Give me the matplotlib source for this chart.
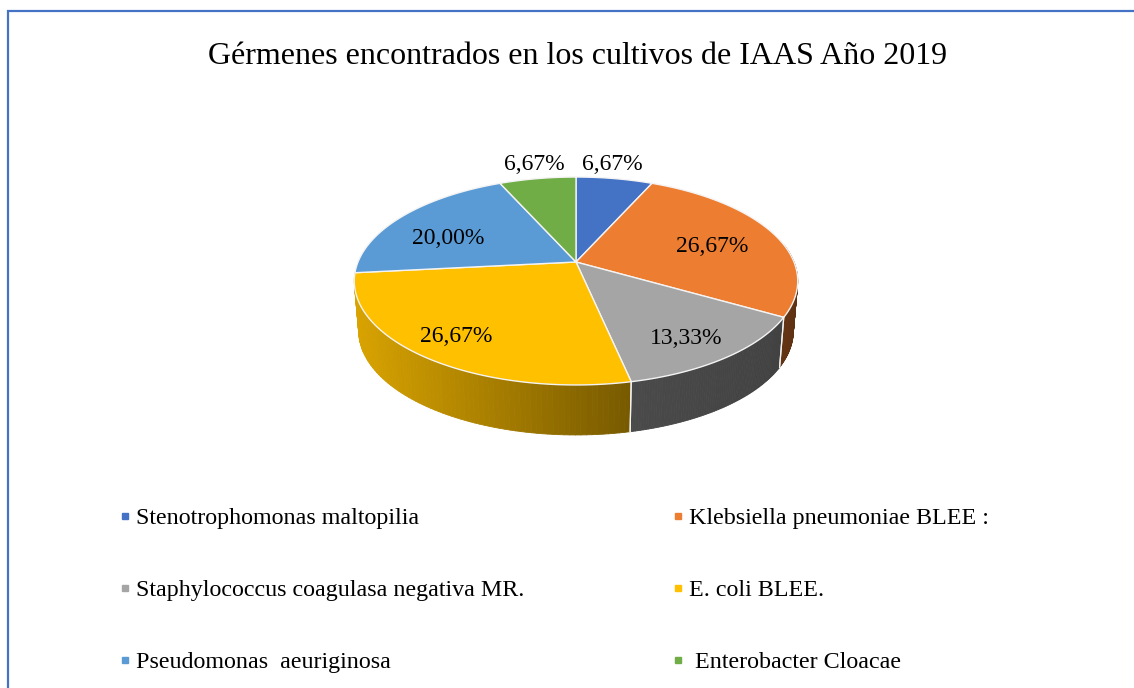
import matplotlib
matplotlib.use("Agg")
import matplotlib.pyplot as plt
import numpy as np
from matplotlib.collections import PolyCollection
from matplotlib.lines import Line2D
from matplotlib.patches import Polygon

plt.rcParams['font.family'] = ['Liberation Serif', 'DejaVu Serif']

title = "Gérmenes encontrados en los cultivos de IAAS Año 2019"
names = ["Stenotrophomonas maltopilia", "Klebsiella pneumoniae BLEE :",
         "Staphylococcus coagulasa negativa MR.", "E. coli BLEE.",
         "Pseudomonas  aeuriginosa", " Enterobacter Cloacae"]
values = [6.67, 26.67, 13.33, 26.67, 20.00, 6.67]
colors = ['#4472C4', '#ED7D31', '#A5A5A5', '#FFC000', '#5B9BD5', '#70AD47']
# darkening of the side wall, left end and right end of each slice
shade_left = [0.4, 0.42, 0.45, 0.85, 0.5, 0.5]
shade_right = [0.4, 0.40, 0.40, 0.47, 0.5, 0.5]
label_pos = [(612, 161), (712, 244), (686, 336), (456, 334), (448, 236), (534, 161)]

# pie geometry in pixels
cx, cy = 576, 262
rx, ry, persp = 218, 100.5, 0.1827
depth = 50
shrink = 0.98


def top_xy(th):
    den = 1 + persp * np.cos(th)
    return cx + rx * np.sin(th) / den, cy - ry * np.cos(th) / den


def low_xy(th):
    x, y = top_xy(th)
    return cx + (x - cx) * shrink, y + depth


fig = plt.figure(figsize=(11.34, 6.88), dpi=100)
ax = fig.add_axes([0, 0, 1, 1])
ax.set_xlim(0, 1134)
ax.set_ylim(688, 0)
ax.axis('off')

# chart frame, runs off the right and bottom of the picture
ax.add_patch(plt.Rectangle((8, 11), 1140, 700, fc='white', ec='#4472C4', lw=1.6))

ax.text(578, 57, title, ha='center', va='center', fontsize=23)

edges = np.radians(np.cumsum([0] + values) / np.sum(values) * 360)

# side wall, only the front slices can be seen
for i in range(4):
    lo = max(edges[i], np.radians(80))
    hi = edges[i + 1]
    if lo >= hi:
        continue
    th = np.linspace(lo, hi, 80)
    x0, y0 = top_xy(th)
    x1, y1 = low_xy(th)
    quads = [[(x0[j], y0[j]), (x0[j + 1], y0[j + 1]), (x1[j + 1], y1[j + 1]), (x1[j], y1[j])]
             for j in range(len(th) - 1)]
    t = (x0[:-1] - x0.min()) / (x0.max() - x0.min())
    shade = shade_left[i] + (shade_right[i] - shade_left[i]) * t
    base = np.array(matplotlib.colors.to_rgb(colors[i]))
    fc = np.outer(shade, base)
    ax.add_collection(PolyCollection(quads, facecolors=fc, edgecolors=fc, linewidths=0.6))
    # white seam where two slices meet on the wall
    for e in (lo, hi):
        if np.radians(100) < e < np.radians(262):
            xa, ya = top_xy(e)
            xb, yb = low_xy(e)
            ax.plot([xa, xb], [ya, yb], color='#f2f2f2', lw=0.9)

# top face
for i in range(len(values)):
    th = np.linspace(edges[i], edges[i + 1], 120)
    x, y = top_xy(th)
    pts = np.column_stack([np.r_[cx, x], np.r_[cy, y]])
    ax.add_patch(Polygon(pts, closed=True, fc=colors[i], ec='#f4f4f4', lw=1.0))

for v, (px, py) in zip(values, label_pos):
    ax.text(px, py + 3, f"{v:.2f}".replace('.', ',') + '%', ha='center', va='center', fontsize=17)

# legend, columns fill first so the order is rearranged
order = [0, 2, 4, 1, 3, 5]
handles = [Line2D([], [], ls='', marker='s', ms=5, color=colors[i], label=names[i]) for i in order]
ax.legend(handles=handles, ncol=2, frameon=False, fontsize=17.3, loc='upper left',
          bbox_to_anchor=(117.6 / 1134, 1 - 507.5 / 688), bbox_transform=fig.transFigure,
          borderaxespad=0, borderpad=0, labelspacing=2.09, handlelength=0.6,
          handletextpad=0.16, columnspacing=6.08)

fig.savefig("out.png", dpi=100)
